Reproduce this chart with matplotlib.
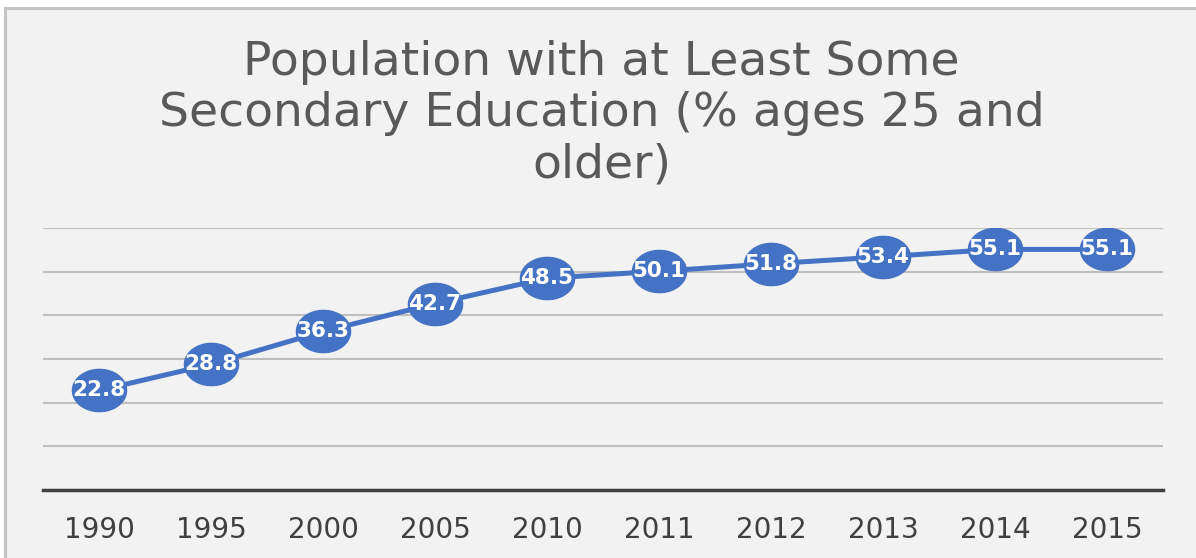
import matplotlib.pyplot as plt
import numpy as np
from matplotlib.path import Path
from matplotlib.patches import Rectangle

years = ['1990', '1995', '2000', '2005', '2010', '2011', '2012', '2013', '2014', '2015']
values = [22.8, 28.8, 36.3, 42.7, 48.5, 50.1, 51.8, 53.4, 55.1, 55.1]

title = 'Population with at Least Some\nSecondary Education (% ages 25 and\nolder)'

plt.rcParams['font.family'] = ['DejaVu Sans']

fig = plt.figure(figsize=(11.96, 5.58), dpi=100)
fig.patch.set_facecolor('white')

# chart area frame (only the left and top edges are in view)
frame = Rectangle((5 / 1196, -0.1), 1.2, 1.1 - 8 / 558, transform=fig.transFigure,
                  facecolor='#f2f2f2', edgecolor='#c4c4c4', linewidth=2.2, zorder=-1)
fig.patches.append(frame)

ax = fig.add_axes([43 / 1196, 1 - 490 / 558, (1163 - 43) / 1196, (490 - 228) / 558])
ax.set_facecolor('none')
ax.set_zorder(1)

# ellipse marker, wider than tall
t = np.linspace(0, 2 * np.pi, 60)
ellipse = Path(np.column_stack([np.cos(t), 0.78 * np.sin(t)]))

x = np.arange(len(years))
ax.plot(x, values, color='#4472c4', linewidth=3.6, marker=ellipse,
        markersize=39, markerfacecolor='#4472c4', markeredgecolor='#4472c4', zorder=3)

for xi, v in zip(x, values):
    ax.text(xi, v, '{:.1f}'.format(v), ha='center', va='center', color='white',
            fontsize=15.5, fontweight='bold', zorder=4)

ax.set_xlim(-0.5, len(years) - 0.5)
ax.set_ylim(0, 60)
ax.set_yticks(np.arange(0, 61, 10))
ax.yaxis.grid(True, color='#bfbfbf', linewidth=1.5)
ax.set_axisbelow(True)
ax.tick_params(axis='y', left=False, labelleft=False)
ax.tick_params(axis='x', bottom=False, labelsize=20, labelcolor='#404040', pad=15)
ax.set_xticks(x)
ax.set_xticklabels(years)

for side in ['top', 'right', 'left']:
    ax.spines[side].set_visible(False)
ax.spines['bottom'].set_color('#404040')
ax.spines['bottom'].set_linewidth(2.5)
ax.spines['bottom'].set_zorder(2)

fig.text(0.503, 1 - 114 / 558, title, ha='center', va='center', fontsize=34,
         color='#595959', linespacing=1.18)

fig.savefig('out.png', dpi=100)
